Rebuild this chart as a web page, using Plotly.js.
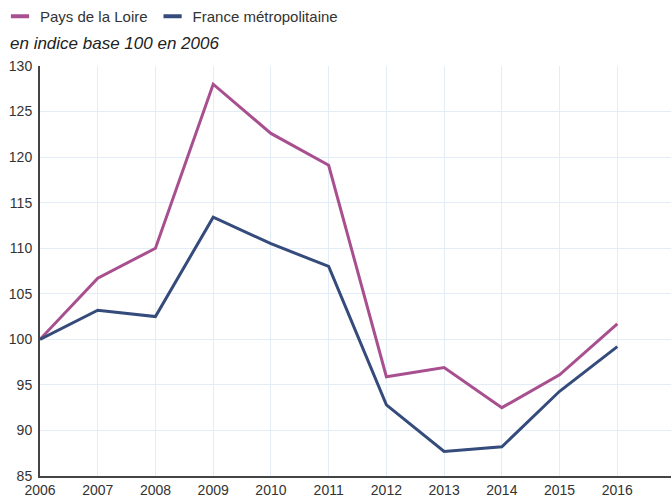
<!DOCTYPE html>
<html>
<head>
<meta charset="utf-8">
<script src="https://cdn.plot.ly/plotly-3.0.1.min.js"></script>
<style>html,body{margin:0;padding:0;background:#fff;}#chart{width:671px;height:503px;}</style>
</head>
<body>
<div id="chart"></div>
<script>
var years = [2006, 2007, 2008, 2009, 2010, 2011, 2012, 2013, 2014, 2015, 2016];
var paysDeLaLoire = [100, 106.7, 110.0, 128.0, 122.6, 119.1, 95.9, 96.9, 92.5, 96.1, 101.7];
var franceMetro = [100, 103.2, 102.5, 113.4, 110.5, 108.0, 92.8, 87.7, 88.2, 94.3, 99.2];
var seriesNames = ["Pays de la Loire", "France métropolitaine"];
var subtitle = "en indice base 100 en 2006";
var colors = ["#a8508f", "#344b7b"];

var traces = [
  {x: years, y: paysDeLaLoire, mode: "lines", name: seriesNames[0], line: {color: colors[0], width: 3}, showlegend: false, hoverinfo: "x+y"},
  {x: years, y: franceMetro, mode: "lines", name: seriesNames[1], line: {color: colors[1], width: 3}, showlegend: false, hoverinfo: "x+y"},
  {x: [null], y: [null], mode: "markers", name: seriesNames[0], marker: {symbol: "line-ew-open", size: 13, color: colors[0], line: {color: colors[0], width: 4}}, showlegend: true},
  {x: [null], y: [null], mode: "markers", name: seriesNames[1], marker: {symbol: "line-ew-open", size: 13, color: colors[1], line: {color: colors[1], width: 4}}, showlegend: true}
];

var layout = {
  width: 671, height: 503,
  margin: {l: 39.5, r: 0, t: 66, b: 27, pad: 0},
  paper_bgcolor: "#ffffff", plot_bgcolor: "#ffffff",
  font: {family: "Liberation Sans, Arial, sans-serif", size: 14, color: "#333333"},
  showlegend: true,
  legend: {orientation: "h", xref: "container", yref: "container", x: -0.022, y: 1.0, xanchor: "left", yanchor: "top",
           font: {size: 15, color: "#333333"}, bgcolor: "rgba(0,0,0,0)", itemwidth: 30, tracegroupgap: 0},
  xaxis: {range: [2006, 2016.93], tickmode: "array", tickvals: years, ticktext: years.map(String),
          showgrid: true, gridcolor: "#e3edf7", gridwidth: 1, zeroline: false,
          showline: true, linecolor: "#444444", linewidth: 2, ticks: "", tickfont: {size: 14, color: "#333333"}, fixedrange: true},
  yaxis: {range: [85, 130], tickmode: "array", tickvals: [85, 90, 95, 100, 105, 110, 115, 120, 125, 130],
          showgrid: true, gridcolor: "#e3edf7", gridwidth: 1, zeroline: false,
          showline: true, linecolor: "#444444", linewidth: 2, ticks: "", ticklabelstandoff: 3, tickfont: {size: 14, color: "#333333"}, fixedrange: true},
  annotations: [
    {text: "<i>" + subtitle + "</i>", xref: "paper", yref: "paper", x: -0.05, y: 1.026, xanchor: "left", yanchor: "bottom",
     showarrow: false, font: {size: 17, color: "#222222"}}
  ]
};

Plotly.newPlot("chart", traces, layout, {displayModeBar: false, staticPlot: true});
</script>
</body>
</html>
